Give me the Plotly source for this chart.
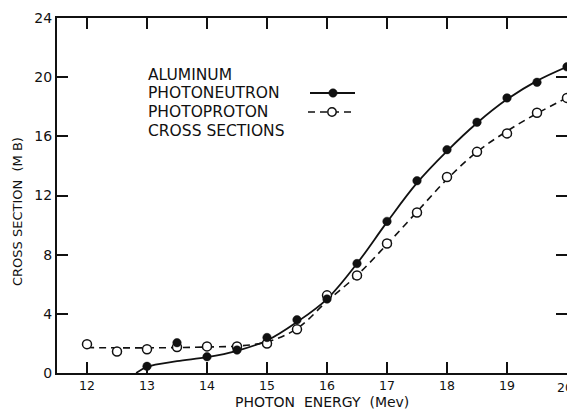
import plotly.graph_objects as go

# ---- data ----
neutron_energy = [13, 13.5, 14, 14.5, 15, 15.5, 16, 16.5, 17, 17.5, 18, 18.5, 19, 19.5, 20]
neutron_xsec = [0.45, 2.05, 1.1, 1.55, 2.4, 3.6, 5.0, 7.4, 10.25, 13.0, 15.1, 16.95, 18.6, 19.65, 20.7]

proton_energy = [12, 12.5, 13, 13.5, 14, 14.5, 15, 15.5, 16, 16.5, 17, 17.5, 18, 18.5, 19, 19.5, 20]
proton_xsec = [1.95, 1.45, 1.6, 1.75, 1.8, 1.8, 2.0, 2.95, 5.25, 6.6, 8.75, 10.85, 13.25, 14.95, 16.2, 17.6, 18.6]

# smooth fitted curves
neutron_fit_energy = [12.82, 13, 13.5, 14, 14.5, 15, 15.5, 16, 16.5, 17, 17.5, 18, 18.5, 19, 19.5, 20]
neutron_fit_xsec = [0.0, 0.42, 0.8, 1.07, 1.5, 2.2, 3.45, 5.0, 7.4, 10.2, 12.85, 15.0, 16.9, 18.5, 19.75, 20.7]

proton_fit_energy = [12, 12.5, 13, 13.5, 14, 14.5, 15, 15.5, 16, 16.5, 17, 17.5, 18, 18.5, 19, 19.5, 20]
proton_fit_xsec = [1.72, 1.7, 1.7, 1.72, 1.76, 1.82, 2.1, 3.0, 4.85, 6.6, 8.7, 10.9, 13.1, 14.95, 16.35, 17.55, 18.6]

x_ticks = [12, 13, 14, 15, 16, 17, 18, 19, 20]
y_ticks = [0, 4, 8, 12, 16, 20, 24]

legend_lines = ["ALUMINUM", "PHOTONEUTRON", "PHOTOPROTON", "CROSS SECTIONS"]

INK = "#111111"
FONT = "DejaVu Sans"

fig = go.Figure()

fig.add_trace(go.Scatter(x=neutron_fit_energy, y=neutron_fit_xsec, mode="lines",
                         line=dict(color=INK, width=1.8, shape="spline", smoothing=1.0),
                         hoverinfo="skip", showlegend=False))
fig.add_trace(go.Scatter(x=proton_fit_energy, y=proton_fit_xsec, mode="lines",
                         line=dict(color=INK, width=1.6, dash="7px,5px", shape="spline", smoothing=1.0),
                         hoverinfo="skip", showlegend=False))
fig.add_trace(go.Scatter(x=proton_energy, y=proton_xsec, mode="markers", cliponaxis=False,
                         marker=dict(symbol="circle", size=9, color="white",
                                     line=dict(color=INK, width=1.5)),
                         showlegend=False))
fig.add_trace(go.Scatter(x=neutron_energy, y=neutron_xsec, mode="markers", cliponaxis=False,
                         marker=dict(symbol="circle", size=8.5, color=INK,
                                     line=dict(color=INK, width=0.5)),
                         showlegend=False))

# page geometry (px); the page body has an 8px margin, so the figure is offset by 8
PAGE_W, PAGE_H, OFF = 575, 411, 8
PL, PR, PT, PB = 57, 567, 18, 373          # plot area edges on the page
W, H = PAGE_W - OFF, PAGE_H - OFF
L, T = PL - OFF, PT - OFF
R = W - (PR - OFF)
B = H - (PB - OFF)
pw, ph = PR - PL, PB - PT


def px(xp):
    return (xp - PL) / pw


def py(yp):
    return (PB - yp) / ph


annotations = []
rows_y = [75, 93, 112, 131]
for txt, yy in zip(legend_lines, rows_y):
    annotations.append(dict(text=txt, x=px(146), y=py(yy), xref="paper", yref="paper",
                            xanchor="left", yanchor="middle", showarrow=False,
                            font=dict(family=FONT, size=15.5, color=INK)))

annotations.append(dict(text="CROSS SECTION  (M B)", x=px(18), y=py(212), xref="paper", yref="paper",
                        textangle=-90, xanchor="center", yanchor="middle", showarrow=False,
                        font=dict(family=FONT, size=13, color=INK)))
annotations.append(dict(text="PHOTON  ENERGY  (Mev)", x=px(322), y=py(402), xref="paper", yref="paper",
                        xanchor="center", yanchor="middle", showarrow=False,
                        font=dict(family=FONT, size=14, color=INK)))

# last x tick label sits on the page edge; drawn as an annotation so it is not dropped
XTICK_FONT = dict(family=FONT, size=12.5, color=INK)
annotations.append(dict(text=str(x_ticks[-1]), x=px(574), xref="paper", y=py(387), yref="paper",
                        xanchor="right", yanchor="middle", showarrow=False, borderpad=0,
                        font=XTICK_FONT))

shapes = [
    dict(type="line", xref="paper", yref="paper", x0=px(310), x1=px(355), y0=py(93), y1=py(93),
         line=dict(color=INK, width=1.8)),
    dict(type="circle", xref="paper", yref="paper", xsizemode="pixel", ysizemode="pixel",
         xanchor=px(333), yanchor=py(93), x0=-4.2, x1=4.2, y0=-4.2, y1=4.2,
         fillcolor=INK, line=dict(color=INK, width=0.5)),
    dict(type="line", xref="paper", yref="paper", x0=px(308), x1=px(355), y0=py(112), y1=py(112),
         line=dict(color=INK, width=1.6, dash="7px,5px")),
    dict(type="circle", xref="paper", yref="paper", xsizemode="pixel", ysizemode="pixel",
         xanchor=px(332), yanchor=py(112), x0=-4.2, x1=4.2, y0=-4.2, y1=4.2,
         fillcolor="white", line=dict(color=INK, width=1.5)),
]

axis_common = dict(showgrid=False, zeroline=False, showline=True, linecolor=INK, linewidth=2,
                   ticks="inside", ticklen=11, tickwidth=1.6, tickcolor=INK, mirror="ticks")

fig.update_xaxes(range=[11.5, 20], tickmode="array", tickvals=x_ticks,
                 ticktext=[str(v) for v in x_ticks[:-1]] + [""],
                 tickfont=XTICK_FONT, **axis_common)
fig.update_yaxes(range=[0, 24], tickmode="array", tickvals=y_ticks,
                 ticktext=[str(v) for v in y_ticks],
                 tickfont=dict(family=FONT, size=14, color=INK), **axis_common)

fig.update_layout(width=W, height=H, margin=dict(l=L, r=R, t=T, b=B, pad=0, autoexpand=False),
                  paper_bgcolor="white", plot_bgcolor="white",
                  annotations=annotations, shapes=shapes, showlegend=False,
                  font=dict(family=FONT, color=INK))

fig.write_html("out.html")
